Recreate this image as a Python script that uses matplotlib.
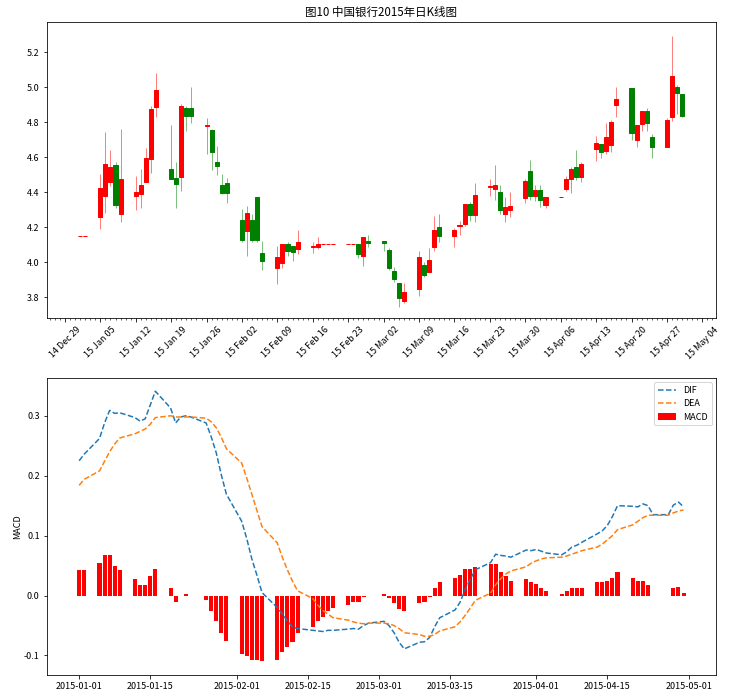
import matplotlib
matplotlib.use('Agg')
import matplotlib.pyplot as plt
import matplotlib.dates as mdates
import numpy as np
import pandas as pd

plt.rcParams['font.family'] = ['Noto Sans CJK SC', 'DejaVu Sans']
plt.rcParams['axes.unicode_minus'] = False
plt.rcParams['font.size'] = 9

# trading calendar (weekdays, holidays filled with previous close)
dates = pd.bdate_range('2015-01-01', '2015-04-30')

open_ = [4.150, 4.150, 4.261, 4.381, 4.461, 4.556, 4.278,
         4.381, 4.392, 4.461, 4.592, 4.890,
         4.533, 4.482, 4.490, 4.882, 4.882,
         4.781, 4.756, 4.575, 4.442, 4.453,
         4.242, 4.181, 4.242, 4.373, 4.053,
         3.970, 3.998, 4.105, 4.093, 4.076,
         4.090, 4.088, 4.105, 4.105, 4.105,
         4.105, 4.105, 4.105, 4.038, 4.122,
         4.122, 4.070, 3.950, 3.882, 3.781,
         3.850, 3.985, 3.947, 4.088, 4.202,
         4.150, 4.210, 4.221, 4.333, 4.270,
         4.433, 4.419, 4.402, 4.276, 4.299,
         4.370, 4.522, 4.381, 4.413, 4.330,
         4.373, 4.419, 4.476, 4.545, 4.488,
         4.648, 4.676, 4.636, 4.670, 4.899,
         4.996, 4.699, 4.790, 4.865, 4.716,
         4.659, 4.830, 5.002, 4.962]
high = [4.150, 4.150, 4.505, 4.745, 4.642, 4.571, 4.762,
        4.493, 4.533, 4.653, 4.893, 5.082,
        4.785, 4.573, 4.905, 4.893, 5.000,
        4.825, 4.762, 4.665, 4.505, 4.482,
        4.305, 4.322, 4.276, 4.373, 4.122,
        4.093, 4.105, 4.116, 4.093, 4.185,
        4.114, 4.145, 4.105, 4.105, 4.105,
        4.105, 4.105, 4.105, 4.145, 4.156,
        4.122, 4.082, 3.973, 3.882, 3.882,
        4.065, 4.002, 4.082, 4.265, 4.276,
        4.196, 4.236, 4.333, 4.345, 4.453,
        4.476, 4.556, 4.442, 4.373, 4.402,
        4.476, 4.585, 4.442, 4.442, 4.373,
        4.373, 4.493, 4.545, 4.642, 4.573,
        4.722, 4.676, 4.796, 4.813, 5.002,
        4.996, 4.785, 4.865, 4.882, 4.733,
        4.825, 5.293, 5.013, 4.962]
low = [4.150, 4.150, 4.192, 4.280, 4.438, 4.312, 4.232,
       4.301, 4.312, 4.461, 4.512, 4.832,
       4.478, 4.312, 4.410, 4.752, 4.798,
       4.621, 4.530, 4.501, 4.392, 4.341,
       4.118, 4.038, 4.118, 4.118, 3.958,
       3.878, 3.970, 4.038, 4.010, 4.050,
       4.051, 4.078, 4.105, 4.105, 4.105,
       4.105, 4.105, 4.027, 3.981, 4.090,
       4.067, 3.958, 3.890, 3.747, 3.770,
       3.810, 3.918, 3.947, 4.067, 4.118,
       4.090, 4.156, 4.210, 4.236, 4.232,
       4.381, 4.358, 4.278, 4.232, 4.261,
       4.341, 4.358, 4.352, 4.318, 4.312,
       4.373, 4.410, 4.398, 4.470, 4.459,
       4.579, 4.596, 4.619, 4.630, 4.830,
       4.699, 4.659, 4.750, 4.750, 4.596,
       4.659, 4.808, 4.848, 4.830]
close = [4.150, 4.150, 4.425, 4.562, 4.545, 4.330, 4.476,
         4.402, 4.442, 4.596, 4.876, 4.985,
         4.478, 4.450, 4.893, 4.838, 4.838,
         4.785, 4.632, 4.552, 4.398, 4.398,
         4.128, 4.282, 4.128, 4.128, 4.010,
         4.030, 4.105, 4.067, 4.059, 4.116,
         4.092, 4.105, 4.105, 4.105, 4.105,
         4.105, 4.105, 4.050, 4.145, 4.112,
         4.112, 3.970, 3.907, 3.798, 3.830,
         4.030, 3.930, 4.013, 4.185, 4.150,
         4.185, 4.212, 4.333, 4.270, 4.385,
         4.435, 4.442, 4.299, 4.316, 4.322,
         4.465, 4.381, 4.413, 4.358, 4.373,
         4.373, 4.476, 4.533, 4.488, 4.562,
         4.682, 4.630, 4.716, 4.802, 4.933,
         4.739, 4.785, 4.865, 4.796, 4.659,
         4.813, 5.065, 4.968, 4.836]

dif = [0.225, 0.236, 0.262, 0.288, 0.309, 0.304, 0.305,
       0.297, 0.291, 0.295, 0.318, 0.341,
       0.313, 0.288, 0.298, 0.300, 0.298,
       0.288, 0.265, 0.238, 0.201, 0.169,
       0.124, 0.095, 0.061, 0.034, 0.005,
       -0.020, -0.031, -0.042, -0.053, -0.055,
       -0.058, -0.059, -0.060, -0.058, -0.058,
       -0.056, -0.055, -0.056, -0.050, -0.046,
       -0.043, -0.050, -0.062, -0.078, -0.089,
       -0.078, -0.077, -0.070, -0.052, -0.037,
       -0.024, -0.011, 0.010, 0.027, 0.043,
       0.055, 0.069, 0.067, 0.066, 0.064,
       0.076, 0.075, 0.077, 0.074, 0.071,
       0.068, 0.073, 0.081, 0.084, 0.089,
       0.103, 0.108, 0.117, 0.132, 0.150,
       0.149, 0.148, 0.153, 0.150, 0.135,
       0.135, 0.151, 0.156, 0.148]
dea = [0.184, 0.194, 0.208, 0.224, 0.240, 0.253, 0.263,
       0.270, 0.274, 0.278, 0.286, 0.297,
       0.300, 0.298, 0.298, 0.298, 0.298,
       0.296, 0.290, 0.280, 0.264, 0.245,
       0.221, 0.196, 0.169, 0.142, 0.115,
       0.088, 0.064, 0.043, 0.024, 0.008,
       -0.005, -0.016, -0.025, -0.031, -0.037,
       -0.041, -0.044, -0.046, -0.047, -0.046,
       -0.046, -0.047, -0.050, -0.055, -0.062,
       -0.065, -0.068, -0.068, -0.065, -0.059,
       -0.052, -0.044, -0.033, -0.021, -0.008,
       0.004, 0.018, 0.028, 0.036, 0.041,
       0.048, 0.054, 0.058, 0.061, 0.063,
       0.064, 0.066, 0.069, 0.072, 0.075,
       0.081, 0.086, 0.093, 0.100, 0.110,
       0.118, 0.124, 0.130, 0.134, 0.134,
       0.134, 0.138, 0.141, 0.143]
macd = [0.042, 0.042, 0.054, 0.067, 0.067, 0.049, 0.042,
        0.027, 0.017, 0.017, 0.032, 0.044,
        0.013, -0.010, 0.000, 0.002, 0.000,
        -0.008, -0.025, -0.042, -0.063, -0.076,
        -0.097, -0.101, -0.108, -0.108, -0.110,
        -0.108, -0.095, -0.085, -0.077, -0.063,
        -0.053, -0.043, -0.035, -0.026, -0.021,
        -0.015, -0.011, -0.010, -0.003, 0.000,
        0.002, -0.004, -0.013, -0.023, -0.026,
        -0.013, -0.010, -0.003, 0.013, 0.022,
        0.030, 0.034, 0.044, 0.044, 0.048,
        0.052, 0.052, 0.040, 0.032, 0.025,
        0.027, 0.022, 0.020, 0.013, 0.008,
        0.003, 0.007, 0.012, 0.012, 0.013,
        0.022, 0.022, 0.025, 0.030, 0.039,
        0.030, 0.024, 0.024, 0.017, 0.000,
        0.000, 0.013, 0.015, 0.005]

o = np.array(open_); h = np.array(high); l = np.array(low); c = np.array(close)
x = mdates.date2num(dates)

W, H = 729, 697
fig = plt.figure(figsize=(W / 72, H / 72), dpi=72)

# ---- candlestick ----
ax1 = fig.add_axes([46.7 / W, 1 - 318 / H, 669.3 / W, 295.7 / H])
cols = np.where(c >= o, 'r', 'g')
ax1.vlines(x, l, h, colors=cols, linewidth=0.5, zorder=1)
ax1.bar(x, np.abs(c - o), bottom=np.minimum(o, c), width=0.8, color=cols,
        edgecolor=cols, linewidth=1.0, zorder=2)
ax1.xaxis_date()
ax1.xaxis.set_major_locator(mdates.WeekdayLocator(mdates.MONDAY))
ax1.xaxis.set_minor_locator(mdates.DayLocator())
ax1.xaxis.set_major_formatter(mdates.DateFormatter('%y %b %d'))
ax1.set_xlim(x[0] - 6.6, x[-1] + 6.7)
ax1.set_ylim(3.682, 5.371)
plt.setp(ax1.get_xticklabels(), rotation=45, ha='center')
ax1.set_title('图10 中国银行2015年日K线图', fontsize=11.5)

# ---- MACD ----
ax2 = fig.add_axes([46.7 / W, 1 - 675 / H, 669.3 / W, 297.3 / H])
ax2.plot(dates, dif, '--', color='C0', label='DIF')
ax2.plot(dates, dea, '--', color='C1', label='DEA')
ax2.bar(dates, macd, color='red', width=0.8, label='MACD')
ax2.set_ylabel('MACD', labelpad=2)
ax2.xaxis.set_major_formatter(mdates.DateFormatter('%Y-%m-%d'))
ax2.legend(loc='upper right')

fig.savefig('out.png', dpi=72)
